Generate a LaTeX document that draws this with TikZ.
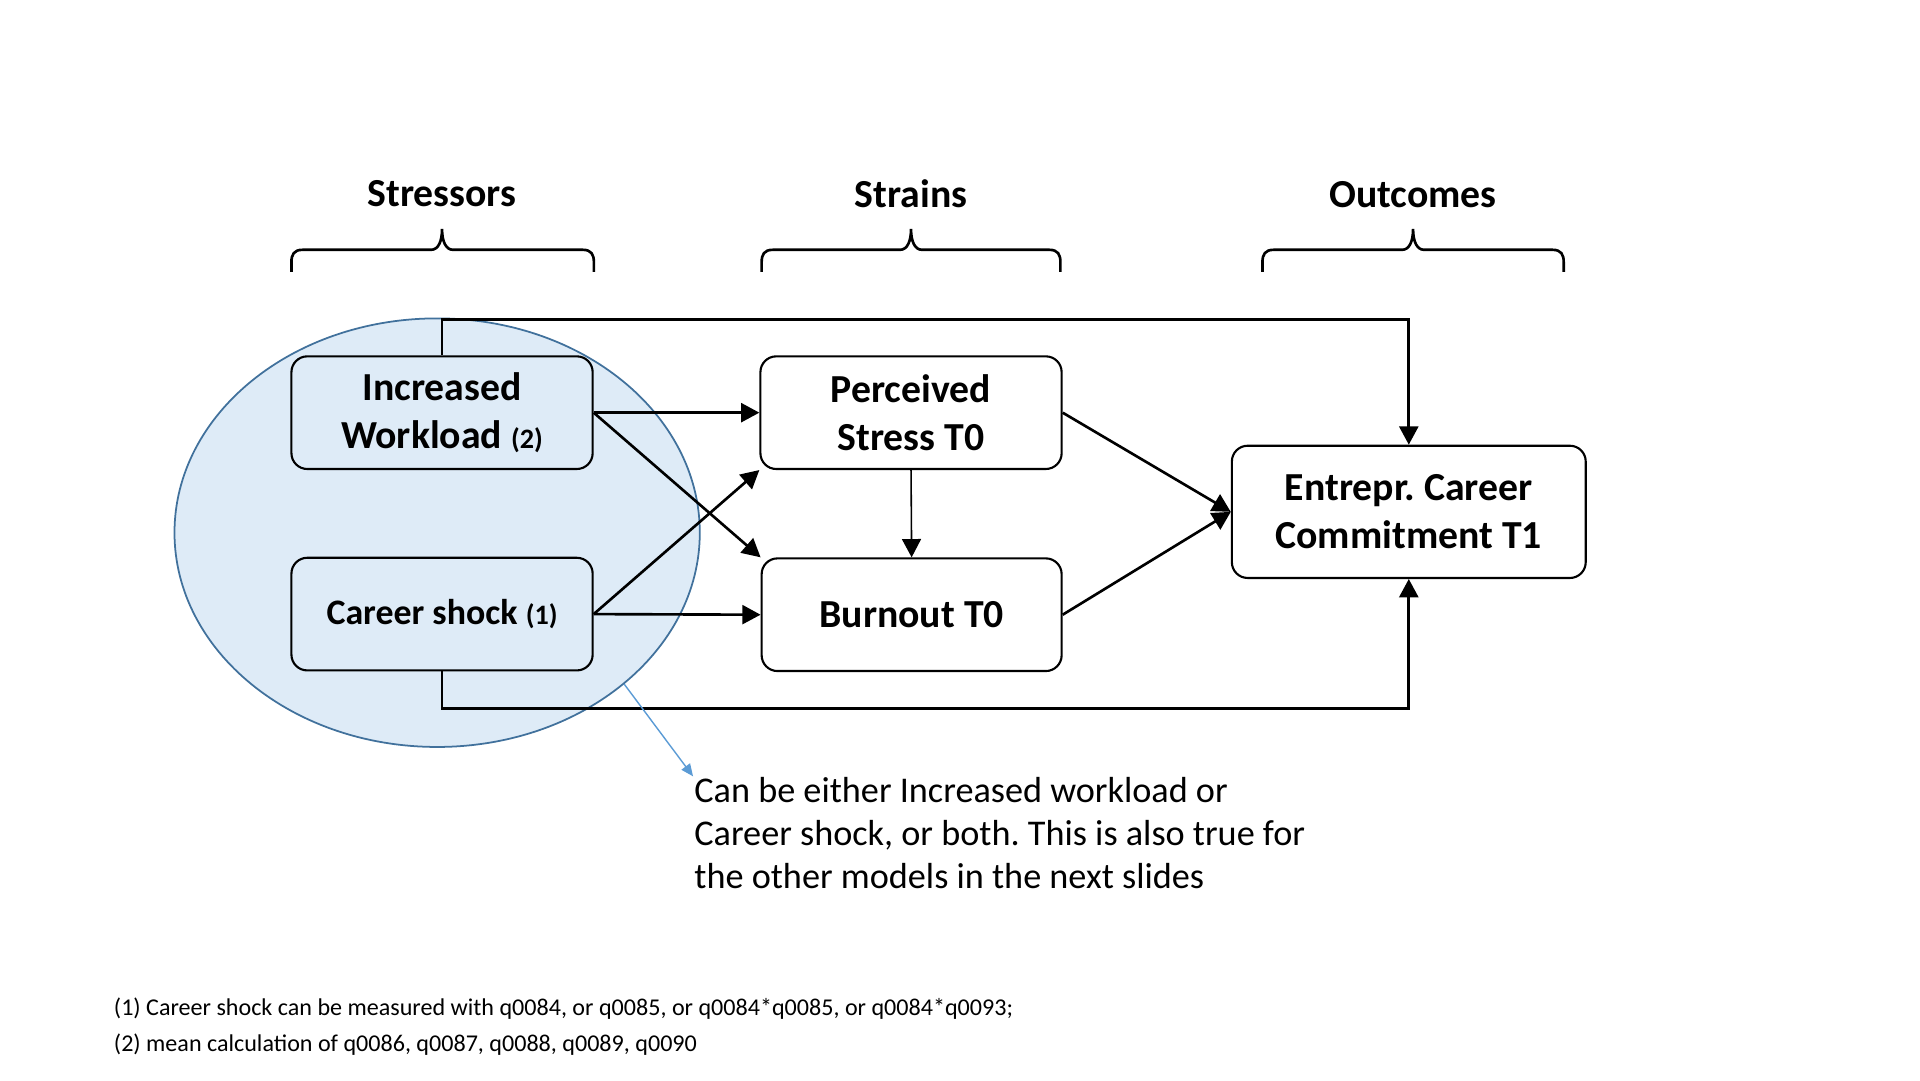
\documentclass[tikz,border=0pt]{standalone}
\usepackage{fontspec}
\setmainfont{Carlito}
\usetikzlibrary{arrows.meta}
\usetikzlibrary{shapes.geometric}
\newdimen\dpx
\dpx=0.012245cm
\definecolor{shade}{HTML}{DEEBF7}
\definecolor{rim}{HTML}{41719C}
\definecolor{pointer}{HTML}{5B9BD5}
\frenchspacing

\begin{document}
\begin{tikzpicture}[x=\dpx,y=-\dpx,line width=0.75pt,
>={Triangle[length=5.2pt,width=5.4pt]},
stressbox/.style={draw,rectangle,rounded corners=4.5pt,minimum width=246\dpx,minimum height=92\dpx,line width=0.6pt,align=center,font=\fontsize{11.3}{13.6}\selectfont\bfseries},
heading/.style={font=\fontsize{11.3}{13.6}\selectfont\bfseries},
note/.style={align=left,inner sep=0pt,font=\fontsize{10.3}{12.2}\selectfont},
foot/.style={anchor=west,inner sep=0pt,font=\fontsize{6.85}{8}\selectfont}]

\useasboundingbox (0,0) rectangle (1568,882);

% group of stressors
\node[ellipse,draw=rim,fill=shade,line width=0.5pt,minimum width=429\dpx,minimum height=350\dpx,inner sep=0pt] (g) at (357,435) {};

\draw (361,158) node[heading] (h1) {Stressors};
\draw (744,158) node[heading] (h2) {Strains};
\draw (1154,159) node[heading] (h3) {Outcomes};

\draw (238,222) -- ++(0,-8) .. controls +(0,-6) and +(-7,0) .. ++(9,-10) -- (352,204) .. controls +(6,0) and +(0,10) .. (361,187) .. controls +(0,10) and +(-6,0) .. (370,204) -- (476,204) .. controls +(7,0) and +(0,-6) .. (485,214) -- ++(0,8);
\draw (622,222) -- ++(0,-8) .. controls +(0,-6) and +(-7,0) .. ++(9,-10) -- (735,204) .. controls +(6,0) and +(0,10) .. (744,187) .. controls +(0,10) and +(-6,0) .. (753,204) -- (857,204) .. controls +(7,0) and +(0,-6) .. (866,214) -- ++(0,8);
\draw (1031,222) -- ++(0,-8) .. controls +(0,-6) and +(-7,0) .. ++(9,-10) -- (1145,204) .. controls +(6,0) and +(0,10) .. (1154,187) .. controls +(0,10) and +(-6,0) .. (1163,204) -- (1268,204) .. controls +(7,0) and +(0,-6) .. (1277,214) -- ++(0,8);

\draw (361,337) node[stressbox] (w) {Increased\\Workload {\fontsize{8}{10}\selectfont(2)}};
\draw (361,501.5) node[stressbox,font=\fontsize{10.2}{12}\selectfont\bfseries] (c) {Career shock {\fontsize{8}{10}\selectfont(1)}};
\draw (744,337) node[stressbox] (p) {Perceived\\Stress T0};
\draw (744.5,502) node[stressbox,minimum width=245\dpx] (b) {Burnout T0};
\draw (1150.5,418) node[stressbox,minimum width=289\dpx,minimum height=108\dpx] (e) {Entrepr. Career\\Commitment T1};

\draw[->] (w.north) -- ++(0,-29) -| (e.north);
\draw[->] (c.south) -- ++(0,30) -| (e.south);
\draw[->] (w.east) -- (p.west);
\draw[->] (w.east) -- (b.north west);
\draw[->] (c.east) -- (p.south west);
\draw[->] (c.east) -- (b.west);
\draw[->,line width=0.45pt] (p.south) -- (b.north);
\draw[->] (p.east) -- (e.west);
\draw[->] (b.east) -- (e.west);

\node[note,anchor=north west] (n) at (566,634) {Can be either Increased workload or\\Career shock, or both. This is also true for\\the other models in the next slides};
\draw[-{Triangle[length=3.5pt,width=3pt]},pointer,line width=0.4pt] (g.-39) -- (n.north west);

\node[foot] (f1) at (92,824) {(1) Career shock can be measured with q0084, or q0085, or q0084*q0085, or q0084*q0093;};
\node[foot] (f2) at (92,853) {(2) mean calculation of q0086, q0087, q0088, q0089, q0090};
\end{tikzpicture}
\end{document}
